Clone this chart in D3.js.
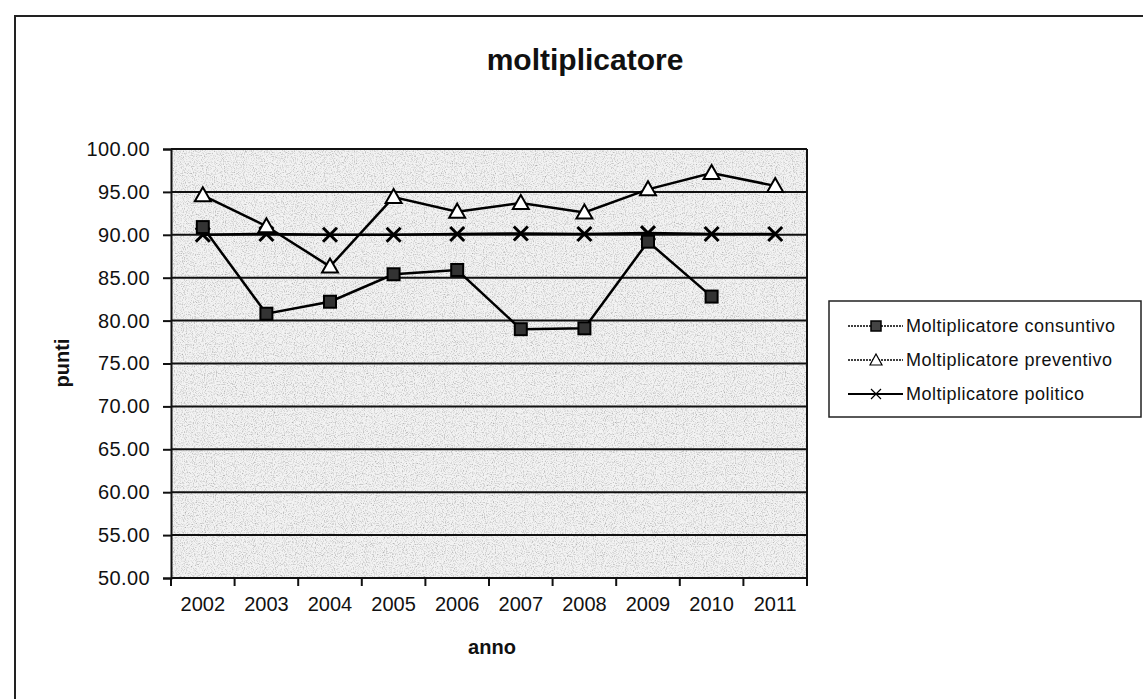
<!DOCTYPE html>
<html>
<head>
<meta charset="utf-8">
<script src="https://cdn.jsdelivr.net/npm/d3@7"></script>
<style>
  body { margin: 0; background: #fff; }
  text { font-family: "Liberation Sans", Arial, sans-serif; fill: #111; }
</style>
</head>
<body>
<svg width="1143" height="699"></svg>
<script>
// data
const years = ["2002", "2003", "2004", "2005", "2006", "2007", "2008", "2009", "2010", "2011"];
const consuntivo = [90.9, 80.8, 82.2, 85.4, 85.9, 79.0, 79.1, 89.2, 82.8, null];
const preventivo = [94.6, 91.0, 86.3, 94.4, 92.7, 93.7, 92.6, 95.3, 97.2, 95.7];
const politico = [90.0, 90.1, 90.0, 90.0, 90.1, 90.15, 90.1, 90.2, 90.1, 90.1];
const yTicks = [50, 55, 60, 65, 70, 75, 80, 85, 90, 95, 100];
const seriesNames = ["Moltiplicatore consuntivo", "Moltiplicatore preventivo", "Moltiplicatore politico"];

let svg = d3.select("svg");

// plot area
const plotL = 171, plotR = 807, plotT = 149, plotB = 578;

let x = d3.scaleBand().domain(years).range([plotL, plotR]);
let y = d3.scaleLinear().domain([50, 100]).range([plotB, plotT]);

// outer frame (only top and left edges show in the scan)
svg.append("path")
    .attr("d", "M15,699 L15,16 L1143,16")
    .attr("fill", "none")
    .attr("stroke", "#222")
    .attr("stroke-width", 2);

// speckled grey plot background
let defs = svg.append("defs");
let f = defs.append("filter").attr("id", "speckle").attr("x", 0).attr("y", 0).attr("width", 1).attr("height", 1);
f.append("feTurbulence").attr("type", "fractalNoise").attr("baseFrequency", 0.9).attr("numOctaves", 2).attr("seed", 3).attr("result", "n");
f.append("feColorMatrix").attr("in", "n").attr("type", "matrix")
    .attr("values", "0 0 0 0 0.4  0 0 0 0 0.4  0 0 0 0 0.4  2.2 0 0 0 -1.0")
    .attr("result", "dots");
f.append("feComposite").attr("in", "dots").attr("in2", "SourceGraphic").attr("operator", "over");

svg.append("rect")
    .attr("x", plotL).attr("y", plotT)
    .attr("width", plotR - plotL).attr("height", plotB - plotT)
    .attr("fill", "#f3f3f3")
    .attr("filter", "url(#speckle)");

// gridlines
svg.append("g")
    .selectAll("line")
    .data(yTicks.slice(1))
    .enter().append("line")
        .attr("x1", plotL).attr("x2", plotR)
        .attr("y1", d => y(d)).attr("y2", d => y(d))
        .attr("stroke", "#111")
        .attr("stroke-width", 2);

// right border
svg.append("line")
    .attr("x1", plotR).attr("x2", plotR).attr("y1", plotT).attr("y2", plotB)
    .attr("stroke", "#111").attr("stroke-width", 2);

// y axis
let yAxis = svg.append("g")
    .attr("transform", `translate(${plotL},0)`)
    .call(d3.axisLeft(y).tickValues(yTicks).tickFormat(d3.format(".2f")).tickSize(8).tickPadding(13));
yAxis.select(".domain").attr("stroke", "#111").attr("stroke-width", 2);
yAxis.selectAll(".tick line").attr("stroke", "#111").attr("stroke-width", 2);
yAxis.selectAll("text").style("font-size", "20px").style("letter-spacing", "0.4px").attr("fill", "#111");

// x axis, ticks between categories
let xAxis = svg.append("g")
    .attr("transform", `translate(0,${plotB})`);
xAxis.append("line")
    .attr("x1", plotL).attr("x2", plotR)
    .attr("stroke", "#111").attr("stroke-width", 2);
xAxis.selectAll("line.tk")
    .data(years.concat(["end"]))
    .enter().append("line")
        .attr("class", "tk")
        .attr("x1", (d, i) => plotL + i * x.step())
        .attr("x2", (d, i) => plotL + i * x.step())
        .attr("y1", 0).attr("y2", 8)
        .attr("stroke", "#111").attr("stroke-width", 2);
xAxis.selectAll("text")
    .data(years)
    .enter().append("text")
        .attr("x", d => x(d) + x.bandwidth() / 2)
        .attr("y", 33)
        .attr("text-anchor", "middle")
        .style("font-size", "20px")
        .text(d => d);

// titles
svg.append("text")
    .attr("x", 585).attr("y", 70)
    .attr("text-anchor", "middle")
    .style("font-size", "30px").style("font-weight", "bold")
    .text("moltiplicatore");
svg.append("text")
    .attr("x", 492).attr("y", 654)
    .attr("text-anchor", "middle")
    .style("font-size", "20px").style("font-weight", "bold")
    .text("anno");
svg.append("text")
    .attr("transform", "translate(69,363) rotate(-90)")
    .attr("text-anchor", "middle")
    .style("font-size", "20px").style("font-weight", "bold")
    .text("punti");

// markers
function drawMarker(g, kind, cx, cy) {
    if (kind === 0) {
        g.append("rect")
            .attr("x", cx - 6).attr("y", cy - 6).attr("width", 12).attr("height", 12)
            .attr("fill", "#333").attr("stroke", "#000").attr("stroke-width", 2);
    } else if (kind === 1) {
        g.append("path")
            .attr("d", `M${cx},${cy - 8} L${cx + 8},${cy + 6} L${cx - 8},${cy + 6} Z`)
            .attr("fill", "#fff").attr("stroke", "#000").attr("stroke-width", 2);
    } else {
        g.append("path")
            .attr("d", `M${cx - 7},${cy - 7} L${cx + 7},${cy + 7} M${cx + 7},${cy - 7} L${cx - 7},${cy + 7}`)
            .attr("stroke", "#000").attr("stroke-width", 3);
    }
}

let line = d3.line()
    .defined(d => d.v !== null)
    .x(d => x(d.year) + x.bandwidth() / 2)
    .y(d => y(d.v));

const allSeries = [consuntivo, preventivo, politico];
// draw politico first, then consuntivo, preventivo on top
[2, 0, 1].forEach(k => {
    let pts = years.map((yr, i) => ({ year: yr, v: allSeries[k][i] }));
    let g = svg.append("g");
    g.append("path")
        .datum(pts)
        .attr("fill", "none")
        .attr("stroke", "#000")
        .attr("stroke-width", 2.5)
        .attr("d", line);
    pts.filter(p => p.v !== null).forEach(p => {
        drawMarker(g, k, x(p.year) + x.bandwidth() / 2, y(p.v));
    });
});

// legend
let legend = svg.append("g");
legend.append("rect")
    .attr("x", 829).attr("y", 301).attr("width", 312).attr("height", 116)
    .attr("fill", "#fff").attr("stroke", "#222").attr("stroke-width", 1.5);
seriesNames.forEach((name, i) => {
    let ly = 326 + i * 34;
    legend.append("line")
        .attr("x1", 848).attr("x2", 903).attr("y1", ly).attr("y2", ly)
        .attr("stroke", "#000").attr("stroke-width", i === 2 ? 2 : 1.5)
        .attr("stroke-dasharray", i === 2 ? null : "2,1");
    let mg = legend.append("g");
    if (i === 0) {
        mg.append("rect").attr("x", 871).attr("y", ly - 5).attr("width", 10).attr("height", 10)
            .attr("fill", "#444").attr("stroke", "#000").attr("stroke-width", 1.5);
    } else if (i === 1) {
        mg.append("path").attr("d", `M876,${ly - 6} L882,${ly + 5} L870,${ly + 5} Z`)
            .attr("fill", "#fff").attr("stroke", "#000").attr("stroke-width", 1.2);
    } else {
        mg.append("path").attr("d", `M871,${ly - 5} L881,${ly + 5} M881,${ly - 5} L871,${ly + 5}`)
            .attr("stroke", "#000").attr("stroke-width", 1.2);
    }
    legend.append("text")
        .attr("x", 906).attr("y", ly + 6)
        .style("font-size", "18px")
        .style("letter-spacing", "0.5px")
        .text(name);
});
</script>
</body>
</html>
